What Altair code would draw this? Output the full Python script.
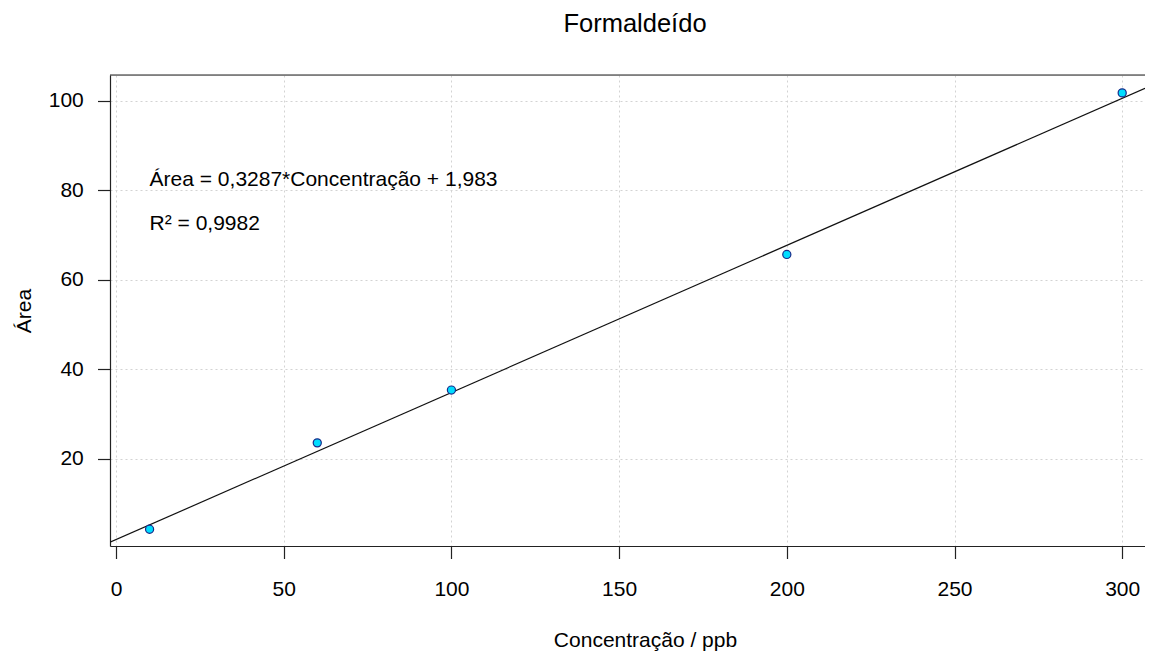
import altair as alt
import pandas as pd

# ---- data ----
conc = [10, 60, 100, 200, 300]
area = [4.3, 23.6, 35.4, 65.7, 101.8]
slope = 0.3287
intercept = 1.983
line_x = [-1.8, 306.8]
x_ticks = [0, 50, 100, 150, 200, 250, 300]
y_ticks = [20, 40, 60, 80, 100]
eq_text = ["Área = 0,3287*Concentração + 1,983", "R² = 0,9982"]
eq_x = [10, 10]
eq_y = [82.3, 72.5]
title_text = ["Formaldeído"]

W, H = 1035, 471
FONT = "Liberation Sans"
FS = 21
INK = "#222222"

pts = pd.DataFrame({"conc": conc, "area": area})
lin = pd.DataFrame({"conc": line_x})
eq = pd.DataFrame({"conc": eq_x, "area": eq_y, "txt": eq_text})
ttl = pd.DataFrame({"txt": title_text})

xscale = alt.Scale(domain=[-1.8, 306.8], nice=False, zero=False)
yscale = alt.Scale(domain=[0.55, 105.8], nice=False, zero=False)

xaxis = alt.Axis(
    values=x_ticks, title="Concentração / ppb", grid=True,
    gridColor="#d3d3d3", gridDash=[2, 3], gridWidth=1,
    tickSize=12.5, tickColor=INK, tickWidth=1.2,
    domainColor=INK, domainWidth=1.2,
    labelFont=FONT, labelFontSize=FS, labelColor="#000",
    labelBaseline="alphabetic", labelPadding=37,
    labelFlush=False, labelOverlap=False,
    titleFont=FONT, titleFontSize=FS, titleFontWeight="normal",
    titleColor="#000", titleBaseline="alphabetic",
    titleX=535, titleY=100.7, titleAlign="center",
)
yaxis = alt.Axis(
    values=y_ticks, title="Área", grid=True,
    gridColor="#d3d3d3", gridDash=[2, 3], gridWidth=1,
    tickSize=12.5, tickColor=INK, tickWidth=1.2,
    domainColor=INK, domainWidth=1.2,
    labelFont=FONT, labelFontSize=FS, labelColor="#000",
    labelPadding=14.2, labelFlush=False, labelOverlap=False,
    titleFont=FONT, titleFontSize=FS, titleFontWeight="normal",
    titleColor="#000", titleBaseline="alphabetic", titleAngle=270,
    titleX=-80, titleY=H / 2, titleAlign="center",
)

points = alt.Chart(pts).mark_circle(
    size=66, fill="#00DDFF", stroke="#1A2A8A", strokeWidth=1.2, opacity=1
).encode(
    x=alt.X("conc:Q", scale=xscale, axis=xaxis),
    y=alt.Y("area:Q", scale=yscale, axis=yaxis),
)

fit = alt.Chart(lin).transform_calculate(
    area=f"{slope} * datum.conc + {intercept}"
).mark_line(color="#111111", strokeWidth=1.2, clip=True).encode(
    x=alt.X("conc:Q", scale=xscale),
    y=alt.Y("area:Q", scale=yscale),
)

labels = alt.Chart(eq).mark_text(
    align="left", baseline="middle", font=FONT, fontSize=FS, color="#000"
).encode(
    x=alt.X("conc:Q", scale=xscale),
    y=alt.Y("area:Q", scale=yscale),
    text="txt:N",
)

title = alt.Chart(ttl).mark_text(
    align="center", baseline="alphabetic", font=FONT, fontSize=25.5,
    color="#000",
).encode(x=alt.value(525), y=alt.value(-43.3), text="txt:N")

top_border = alt.Chart(pd.DataFrame({"k": [0]})).mark_rule(
    color=INK, strokeWidth=1.2
).encode(x=alt.value(0), x2=alt.value(W), y=alt.value(0))

chart = alt.layer(fit, points, labels, top_border, title).properties(
    width=W, height=H,
    autosize=alt.AutoSizeParams(type="none"),
    padding={"left": 102, "top": 67, "right": 0, "bottom": 105},
).configure_view(stroke=None).configure(background="white")

chart.save("out.html", embed_options={"renderer": "svg", "actions": False})
